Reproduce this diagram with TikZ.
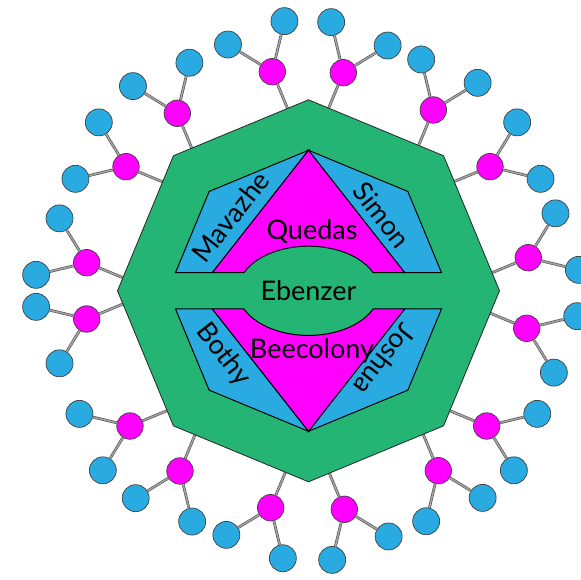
\documentclass[tikz,border=0pt]{standalone}
\usepackage{fontspec}
\setmainfont{Lato}
\usetikzlibrary{calc}
\definecolor{octgreen}{HTML}{24B473}
\definecolor{skyb}{HTML}{29ABE2}
\definecolor{mag}{HTML}{FF00FF}
\tikzset{
  hub/.style={circle, fill=mag, draw=black!75, line width=0.7pt, minimum size=26.5pt, inner sep=0pt},
  leaf/.style={circle, fill=skyb, draw=black!75, line width=0.7pt, minimum size=27pt, inner sep=0pt},
  conn/.style={draw=black!65, double=black!35, double distance=1.4pt, line width=0.7pt},
  piece/.style={draw=black, line width=1pt, line join=miter},
  lbl/.style={font=\fontsize{27}{32}\selectfont, inner sep=0pt},
}
\begin{document}
\begin{tikzpicture}[x=1pt,y=1pt]
\useasboundingbox (-308.5,-289.2) rectangle (271.5,290.8);
\foreach \k in {0,...,8} { \coordinate (o\k) at (\k*45:191); }
% hubs, leaves and connectors
\foreach \n/\x/\y/\a in {A/-36.2/219.1/112.5, B/-131.2/177.5/112.5,
  C/-182.5/124.1/157.5, G/-221.8/28.1/157.5,
  H/-221.8/-28.2/202.5, K/-178.5/-135.2/202.5,
  L/-128.5/-180.2/247.5, M/-37.8/-216.9/247.5,
  N/35.8/-218.5/292.5, P/129.8/-179.9/292.5,
  Q/178.2/-135.2/337.5, J/218.2/-37.5/337.5,
  I/219.8/33.1/22.5, F/181.5/124.1/22.5,
  E/124.8/180.8/67.5, D/34.8/218.1/67.5} {
  \node[hub] (\n) at (\x,\y) {};
  \node[leaf] (\n1) at ($(\n)+(\a+36:52)$) {};
  \node[leaf] (\n2) at ($(\n)+(\a-36:52)$) {};
  \coordinate (\n p) at (\a-22.5:191);
  \coordinate (\n q) at (\a+22.5:191);
  \coordinate (\n f) at ($(\n p)!(\n)!(\n q)$);
  \draw[conn] (\n) -- (\n1);
  \draw[conn] (\n) -- (\n2);
  \draw[conn] (\n) -- (\n f);
}
% outer octagon
\draw[fill=octgreen, draw=black!85, line width=0.8pt, line join=miter]
  (o0) -- (o1) -- (o2) -- (o3) -- (o4) -- (o5) -- (o6) -- (o7) -- cycle;
% upper half
\draw[piece, fill=skyb] (-133,18.1) -- (-99.35,99.35) -- (0,140.5) -- (-96.2,18.1) -- cycle;
\draw[piece, fill=skyb] (133,18.1) -- (99.35,99.35) -- (0,140.5) -- (96.2,18.1) -- cycle;
\draw[piece, fill=mag] (-96.2,18.1) -- (0,140.5) -- (96.2,18.1) -- (64.65,18.1)
  arc[start angle=23.94, end angle=156.06, x radius=70.7, y radius=44.6] -- cycle;
% lower half
\draw[piece, fill=skyb] (-133,-18.1) -- (-99.35,-99.35) -- (0,-140.5) -- (-96.2,-18.1) -- cycle;
\draw[piece, fill=skyb] (133,-18.1) -- (99.35,-99.35) -- (0,-140.5) -- (96.2,-18.1) -- cycle;
\draw[piece, fill=mag] (-96.2,-18.1) -- (0,-140.5) -- (96.2,-18.1) -- (64.65,-18.1)
  arc[start angle=-23.94, end angle=-156.06, x radius=70.7, y radius=44.6] -- cycle;
% labels
\node[lbl, anchor=base] (quedas) at (3.5,50.8) {Quedas};
\node[lbl, anchor=base] (ebenzer) at (0,-9.9) {Ebenzer};
\node[lbl, anchor=base] (beecolony) at (3.5,-67.7) {Beecolony};
\node[lbl, rotate=52] (mavazhe) at (-77.8,74.1) {Mavazhe};
\node[lbl, rotate=-52] (simon) at (73.2,75.8) {Simon};
\node[lbl, rotate=-52] (bothy) at (-85.2,-64.2) {Bothy};
\node[lbl, rotate=232] (joshua) at (76.5,-69.2) {Joshua};
\end{tikzpicture}
\end{document}
